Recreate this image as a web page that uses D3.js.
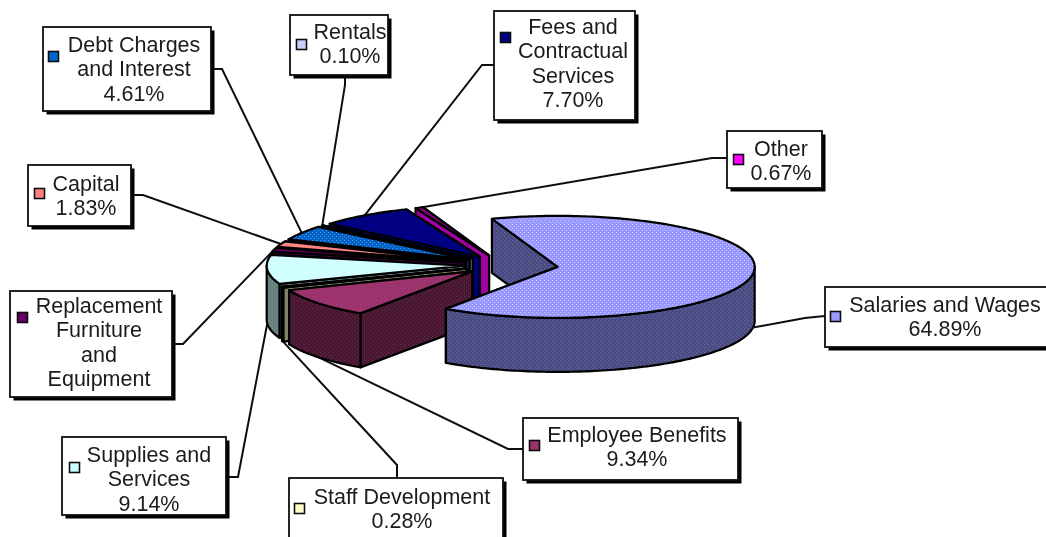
<!DOCTYPE html>
<html><head><meta charset="utf-8">
<script src="https://cdn.jsdelivr.net/npm/d3@7/dist/d3.min.js"></script>
<style>html,body{margin:0;padding:0;background:#fff;overflow:hidden}svg{display:block}</style>
</head><body><svg id="c" width="1046" height="537"></svg>
<script>
// ---- data ----
const categories = ["Salaries and Wages","Employee Benefits","Staff Development","Supplies and Services","Replacement Furniture and Equipment","Capital","Debt Charges and Interest","Rentals","Fees and Contractual Services","Other"];
const values = [64.89,9.34,0.28,9.14,1.24,1.83,4.61,0.10,7.70,0.67];
const labelLines = [["Salaries and Wages","64.89%"],["Employee Benefits","9.34%"],["Staff Development","0.28%"],["Supplies and","Services","9.14%"],["Replacement","Furniture","and","Equipment"],["Capital","1.83%"],["Debt Charges","and Interest","4.61%"],["Rentals","0.10%"],["Fees and","Contractual","Services","7.70%"],["Other","0.67%"]];
// ---- style & layout ----
const topColors  = ["#9797ff","#993366","#ffffcc","#ccffff","#660066","#ff8080","#0062c8","#ccccff","#000080","#800080"];
const topDots    = ["#cfcfff","#b03c9c","#ffffe8","#f2ffff","#6c106c","#ffa8a8","#5c98dc","#e4e4ff","#000088","#9a009a"];
const wallColors = ["#4c4c84","#4a1832","#808066","#668080","#330033","#804040","#003366","#666680","#000070","#a000a0"];
const wallDots   = ["#6c6ca0","#66304c","#96967c","#7c9696","#3e0e3e","#905050","#103e70","#76768e","#000078","#b010b0"];
const markColors = ["#9999ff","#993366","#ffffcc","#ccffff","#660066","#ff8080","#0066cc","#ccccff","#000080","#ff00ff"];
const explode    = [0.28,0.2,0.2,0.2,0.2,0.2,0.2,0.2,0.2,0.2];
const boxes = [[825,287,226,60],[523,418,215,62],[289,478,214,65],[62,437,164,78],[10,291,162,106],[28,165,103,61],[43,27,168,84],[290,15,98,60],[494,11,141,109],[727,131,95,57]];
const textCx = [945,637,402,149,99,86,134,350,573,781];
const firstBase = [312,442,504,462,313,191,52,39,34,156];
const markPos = [[830,311],[529,440],[294,503],[69,462],[17,312],[34,188],[48,51],[296,39],[500,32],[733,154]];
const elbows = [[[825,316],[805,318]],[[523,449],[508,449]],[[397,478],[397,465]],[[226,477],[238,477]],[[172,344],[183,344]],[[131,195],[143,195]],[[211,69],[222,69]],[[345,75],[345,85]],[[494,65],[482,65]],[[727,158],[712,158]]];
const front = [true,true,true,true,false,false,false,false,false,false];

const cx=503, cy=265, rx=197, ry=51, depth=54, startDeg=-19.5;
const svg=d3.select("#c");
const defs=svg.append("defs");
const blur=defs.append("filter").attr("id","soft").attr("x","-5%").attr("y","-5%").attr("width","110%").attr("height","110%");
blur.append("feGaussianBlur").attr("stdDeviation",0.7);

function tex(id,base,dot){
  const p=defs.append("pattern").attr("id",id).attr("width",4).attr("height",4).attr("patternUnits","userSpaceOnUse");
  p.append("rect").attr("width",4).attr("height",4).attr("fill",base);
  [[0,0],[2,2]].forEach(d=>p.append("rect").attr("x",d[0]).attr("y",d[1]).attr("width",1).attr("height",1).attr("fill",dot));
  return `url(#${id})`;
}
const pie=d3.pie().sort(null).startAngle(startDeg*Math.PI/180).endAngle(startDeg*Math.PI/180+2*Math.PI);
const slices=pie(values).map((s,i)=>{
  const mid=(s.startAngle+s.endAngle)/2;
  return {...s,i,mid,ax:cx+explode[i]*rx*Math.sin(mid),ay:cy-explode[i]*ry*Math.cos(mid)};
});
const rim=(s,a)=>[s.ax+rx*Math.sin(a),s.ay-ry*Math.cos(a)];
const line=d3.line();

const root=svg.append("g").attr("filter","url(#soft)");

// leader lines
const gl=root.append("g");
slices.forEach((s,i)=>{
  const p=rim(s,s.mid); if(front[i]) p[1]+=depth;
  gl.append("path").attr("d",line([...elbows[i],p])).attr("fill","none").attr("stroke","#111").attr("stroke-width",2);
});

// pie, back to front
const order=[9,8,7,6,5,4,3,2,1,0];
const gp=root.append("g").attr("stroke","#000").attr("stroke-width",2.2).attr("stroke-linejoin","round");
order.forEach(i=>{
  const s=slices[i];
  const wall=tex("w"+i,wallColors[i],wallDots[i]);
  const top=tex("t"+i,topColors[i],topDots[i]);
  const g=gp.append("g");
  const radial=a=>{const r=rim(s,a);return line([[s.ax,s.ay],r,[r[0],r[1]+depth],[s.ax,s.ay+depth]])+"Z";};
  [s.startAngle,s.endAngle].sort((a,b)=>rim(s,a)[1]-rim(s,b)[1]).forEach(a=>g.append("path").attr("d",radial(a)).attr("fill",wall));
  // outer wall: only the part of the rim that faces the viewer
  let a0=s.startAngle,a1=s.endAngle;
  const H=Math.PI/2;
  [[H,3*H],[-3*H,-H]].forEach(([lo,hi])=>{
    const b0=Math.max(a0,lo),b1=Math.min(a1,hi);
    if(b1>b0){
      const pts=d3.range(b0,b1,0.02).concat([b1]).map(a=>rim(s,a));
      const low=pts.map(p=>[p[0],p[1]+depth]).reverse();
      g.append("path").attr("d",line(pts.concat(low))+"Z").attr("fill",wall);
    }
  });
  const pts=d3.range(a0,a1,0.02).concat([a1]).map(a=>rim(s,a));
  g.append("path").attr("d",line([[s.ax,s.ay],...pts])+"Z").attr("fill",top);
});

// labels
const gb=root.append("g").attr("font-family","'Liberation Sans',Arial,sans-serif").attr("font-size",21.5).attr("fill","#1a1a1a");
boxes.forEach((b,i)=>{
  const g=gb.append("g");
  g.append("rect").attr("x",b[0]+3.5).attr("y",b[1]+3.5).attr("width",b[2]).attr("height",b[3]).attr("fill","#000");
  g.append("rect").attr("x",b[0]).attr("y",b[1]).attr("width",b[2]).attr("height",b[3]).attr("fill","#fff").attr("stroke","#111").attr("stroke-width",1.8);
  g.append("rect").attr("x",markPos[i][0]+.5).attr("y",markPos[i][1]+.5).attr("width",10).attr("height",10).attr("fill",markColors[i]).attr("stroke","#111").attr("stroke-width",1.6);
  labelLines[i].forEach((t,k)=>g.append("text").attr("x",textCx[i]).attr("y",firstBase[i]+k*24.3).attr("text-anchor","middle").text(t));
});
</script></body></html>
